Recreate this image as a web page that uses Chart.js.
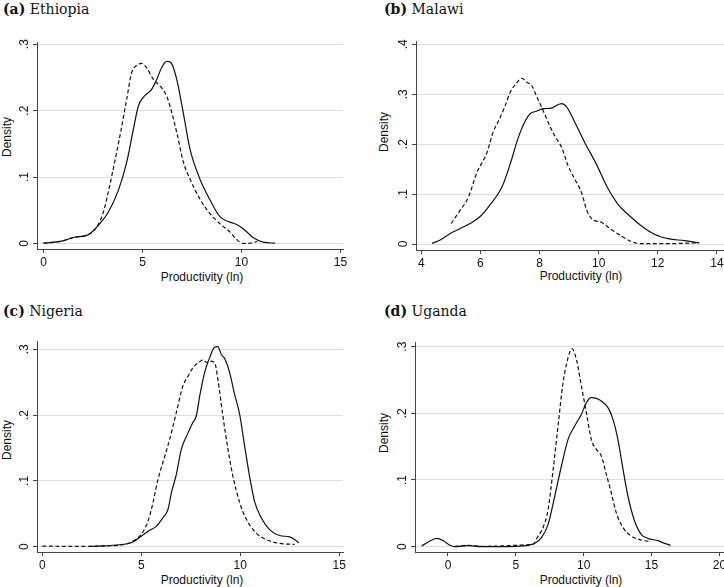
<!DOCTYPE html>
<html>
<head>
<meta charset="utf-8">
<script src="https://cdn.jsdelivr.net/npm/chart.js@4.4.1/dist/chart.umd.min.js"></script>
<style>
  body { margin: 0; background: #fff; }
  #wrap { position: relative; width: 724px; height: 587px; overflow: hidden; background: #fff; }
  canvas { position: absolute; }
  .ptitle { position: absolute; font-family: "DejaVu Serif", serif; font-size: 14px; line-height: 14px; color: #111; white-space: nowrap; }
  .ptitle b { font-weight: bold; }
  .xt, .yt { position: absolute; font-family: "Liberation Sans", Arial, sans-serif; font-size: 12px; line-height: 12px; color: #111; white-space: nowrap; }
  .xt { transform: translate(-50%, -50%); }
  .yt { transform: translate(-50%, -50%) rotate(-90deg); }
</style>
</head>
<body>
<div id="wrap">
  <div class="ptitle" style="left:3px;top:2px"><b>(a)</b> Ethiopia</div>
  <div class="ptitle" style="left:384px;top:2px"><b>(b)</b> Malawi</div>
  <div class="ptitle" style="left:3px;top:304px"><b>(c)</b> Nigeria</div>
  <div class="ptitle" style="left:384px;top:304px"><b>(d)</b> Uganda</div>

  <div class="xt" style="left:202px;top:277px">Productivity (ln)</div>
  <div class="xt" style="left:581px;top:276px">Productivity (ln)</div>
  <div class="xt" style="left:202px;top:580px">Productivity (ln)</div>
  <div class="xt" style="left:581px;top:580px">Productivity (ln)</div>

  <div class="yt" style="left:7px;top:137px">Density</div>
  <div class="yt" style="left:384px;top:132px">Density</div>
  <div class="yt" style="left:7px;top:440px">Density</div>
  <div class="yt" style="left:384px;top:433px">Density</div>

  <canvas id="cA"></canvas>
  <canvas id="cB"></canvas>
  <canvas id="cC"></canvas>
  <canvas id="cD"></canvas>
</div>

<script>
// ---- data ----
const ethiopiaSolidX = [0, 0.9, 1.5, 2.3, 2.85, 3.27, 3.78, 4.2, 4.54, 4.79, 5.04, 5.46, 5.72, 5.97, 6.22, 6.44, 6.73, 7.07, 7.4, 7.9, 8.42, 8.92, 9.34, 9.76, 10.19, 10.6, 11.1, 11.7];
const ethiopiaSolidY = [0.0005, 0.0035, 0.009, 0.014, 0.03, 0.047, 0.08, 0.122, 0.172, 0.207, 0.22, 0.232, 0.247, 0.265, 0.274, 0.272, 0.247, 0.195, 0.142, 0.097, 0.065, 0.04, 0.033, 0.0285, 0.0195, 0.0085, 0.002, 0.0005];
const ethiopiaDashX = [0, 0.9, 1.5, 2.3, 2.68, 3.02, 3.27, 3.52, 3.86, 4.2, 4.45, 4.7, 4.96, 5.21, 5.55, 5.89, 6.22, 6.48, 6.73, 7.07, 7.4, 7.9, 8.42, 8.92, 9.43, 9.76, 10.1, 10.44, 10.8];
const ethiopiaDashY = [0.0005, 0.0035, 0.009, 0.014, 0.0245, 0.047, 0.077, 0.112, 0.162, 0.217, 0.257, 0.268, 0.271, 0.2645, 0.247, 0.237, 0.222, 0.197, 0.167, 0.122, 0.097, 0.067, 0.0445, 0.0295, 0.017, 0.006, 0.0, 0.0005, 0.003];

const malawiSolidX = [4.36, 4.64, 4.98, 5.32, 5.65, 5.99, 6.33, 6.72, 7.0, 7.28, 7.51, 7.68, 7.9, 8.13, 8.41, 8.58, 8.75, 8.92, 9.2, 9.53, 9.93, 10.27, 10.66, 11.05, 11.45, 11.9, 12.35, 12.9, 13.4];
const malawiSolidY = [0.0013, 0.008, 0.021, 0.031, 0.041, 0.055, 0.079, 0.113, 0.159, 0.213, 0.246, 0.261, 0.266, 0.271, 0.272, 0.278, 0.281, 0.274, 0.243, 0.203, 0.159, 0.116, 0.079, 0.056, 0.036, 0.019, 0.0107, 0.0067, 0.002];
const malawiDashX = [5.01, 5.26, 5.6, 5.88, 6.22, 6.44, 6.61, 6.83, 7.0, 7.23, 7.4, 7.57, 7.74, 7.9, 8.13, 8.35, 8.52, 8.75, 8.97, 9.2, 9.42, 9.59, 9.76, 10.1, 10.43, 10.77, 11.1, 11.45, 12.35, 13.4];
const malawiDashY = [0.041, 0.063, 0.095, 0.143, 0.183, 0.226, 0.246, 0.276, 0.303, 0.323, 0.332, 0.324, 0.317, 0.296, 0.266, 0.236, 0.216, 0.193, 0.156, 0.129, 0.103, 0.069, 0.051, 0.043, 0.029, 0.016, 0.005, 0.0007, 0.0007, 0.0027];

const nigeriaSolidX = [2.4, 2.9, 3.9, 4.49, 5.0, 5.42, 5.76, 6.09, 6.35, 6.52, 6.77, 7.02, 7.36, 7.61, 7.78, 7.95, 8.2, 8.45, 8.7, 8.87, 9.04, 9.21, 9.46, 9.71, 9.97, 10.22, 10.47, 10.72, 11.06, 11.48, 11.99, 12.5, 12.74, 12.96];
const nigeriaSolidY = [0.0005, 0.001, 0.003, 0.006, 0.016, 0.025, 0.031, 0.044, 0.057, 0.082, 0.11, 0.148, 0.173, 0.189, 0.199, 0.229, 0.265, 0.287, 0.303, 0.304, 0.292, 0.286, 0.265, 0.232, 0.201, 0.153, 0.107, 0.069, 0.044, 0.026, 0.017, 0.015, 0.011, 0.006];
const nigeriaDashX = [0, 1.5, 2.5, 2.9, 3.9, 4.49, 5.0, 5.34, 5.59, 5.84, 6.09, 6.43, 6.77, 7.1, 7.36, 7.61, 7.95, 8.11, 8.28, 8.45, 8.7, 8.87, 9.12, 9.38, 9.63, 9.97, 10.3, 10.8, 11.3, 11.99, 12.74];
const nigeriaDashY = [0.001, 0.0005, 0.0005, 0.001, 0.0025, 0.007, 0.019, 0.039, 0.067, 0.102, 0.128, 0.163, 0.204, 0.244, 0.259, 0.272, 0.281, 0.284, 0.28, 0.282, 0.28, 0.254, 0.199, 0.148, 0.107, 0.067, 0.042, 0.021, 0.011, 0.005, 0.0035];

const ugandaSolidX = [-1.94, -1.45, -0.83, -0.34, 0.15, 0.51, 1.5, 2.48, 4.93, 5.9, 6.4, 6.89, 7.38, 7.87, 8.36, 8.85, 9.34, 9.83, 10.2, 10.56, 10.93, 11.3, 11.79, 12.16, 12.52, 12.9, 13.26, 13.75, 14.24, 14.73, 15.47, 15.96, 16.4];
const ugandaSolidY = [0.001, 0.007, 0.0125, 0.009, 0.002, 0, 0.0015, 0, 0.0005, 0.002, 0.005, 0.0135, 0.0335, 0.076, 0.121, 0.161, 0.181, 0.1985, 0.216, 0.2235, 0.2225, 0.2185, 0.2085, 0.191, 0.161, 0.116, 0.076, 0.0385, 0.0185, 0.0125, 0.009, 0.005, 0.002];
const ugandaDashX = [0.5, 1.5, 2.5, 5.0, 6.0, 6.27, 6.64, 7.0, 7.38, 7.75, 8.11, 8.48, 8.85, 9.14, 9.46, 9.83, 10.2, 10.56, 10.93, 11.3, 11.67, 12.03, 12.4, 12.9, 13.5, 14.24, 14.98];
const ugandaDashY = [0, 0.002, 0.0005, 0.002, 0.003, 0.0035, 0.016, 0.0285, 0.056, 0.116, 0.181, 0.246, 0.2835, 0.297, 0.281, 0.241, 0.201, 0.161, 0.146, 0.136, 0.1085, 0.081, 0.051, 0.0285, 0.016, 0.01, 0.0075];

// tick values and labels
const xTicks15 = [0, 5, 10, 15];
const xTicksMalawi = [4, 6, 8, 10, 12, 14];
const xTicksUganda = [0, 5, 10, 15, 20];
const yTicks3 = [0, 0.1, 0.2, 0.3];
const yTicks4 = [0, 0.1, 0.2, 0.3, 0.4];
const yTickLabels = ["0", ".1", ".2", ".3", ".4"];

// ---- layout ----
const Y_W = 36;   // room for y tick labels
const X_H = 24;   // room for x tick labels
const PAD_T = 6;
const AXIS = "#444";
const GRID = "#dedede";

const toPoints = (xs, ys) => xs.map((x, i) => ({ x: x, y: ys[i] }));

function makePanel(id, box, solid, dash, xTicks, yTicks, range) {
  const canvas = document.getElementById(id);
  const padR = box.padR;
  const w = Y_W + (box.r - box.l) + padR;
  const h = PAD_T + (box.b - box.t) + X_H;
  canvas.width = w;
  canvas.height = h;
  canvas.style.left = (box.l - Y_W) + "px";
  canvas.style.top = (box.t - PAD_T) + "px";

  new Chart(canvas.getContext("2d"), {
    type: "line",
    data: {
      datasets: [
        { data: solid, borderColor: "#111", borderWidth: 1.2, pointRadius: 0, cubicInterpolationMode: "monotone", fill: false },
        { data: dash, borderColor: "#111", borderWidth: 1.2, borderDash: [4, 2.5], pointRadius: 0, cubicInterpolationMode: "monotone", fill: false }
      ]
    },
    options: {
      responsive: false,
      devicePixelRatio: 1,
      animation: false,
      layout: { padding: { left: 0, top: PAD_T, right: padR, bottom: 0 } },
      plugins: { legend: { display: false }, tooltip: { enabled: false } },
      scales: {
        x: {
          type: "linear",
          min: range.xMin,
          max: range.xMax,
          afterBuildTicks: s => { s.ticks = xTicks.map(v => ({ value: v })); },
          afterFit: s => { s.height = X_H; s.paddingLeft = 0; s.paddingRight = 0; },
          grid: { drawOnChartArea: false, drawTicks: true, tickLength: 4, tickColor: AXIS },
          border: { color: AXIS, width: 1 },
          ticks: { autoSkip: false, maxRotation: 0, padding: 2, color: "#111",
                   font: { family: "Liberation Sans", size: 12 } }
        },
        y: {
          type: "linear",
          min: range.yMin,
          max: range.yMax,
          afterBuildTicks: s => { s.ticks = yTicks.map(v => ({ value: v })); },
          afterFit: s => { s.width = Y_W; s.paddingTop = 0; s.paddingBottom = 0; },
          grid: { color: GRID, lineWidth: 1, tickLength: 4, tickColor: AXIS },
          border: { color: AXIS, width: 1 },
          ticks: { autoSkip: false, minRotation: 90, maxRotation: 90, crossAlign: "center", padding: 3,
                   color: "#111", font: { family: "Liberation Sans", size: 12 },
                   callback: (v, i) => yTickLabels[i] }
        }
      }
    }
  });
}

makePanel("cA", { l: 37, r: 343, t: 42, b: 249, padR: 20 },
  toPoints(ethiopiaSolidX, ethiopiaSolidY), toPoints(ethiopiaDashX, ethiopiaDashY),
  xTicks15, yTicks3, { xMin: -0.33, xMax: 15.13, yMin: -0.0083, yMax: 0.3033 });

makePanel("cB", { l: 416, r: 724, t: 41, b: 250, padR: 0 },
  toPoints(malawiSolidX, malawiSolidY), toPoints(malawiDashX, malawiDashY),
  xTicksMalawi, yTicks4, { xMin: 3.82, xMax: 14.24, yMin: -0.012, yMax: 0.4066 });

makePanel("cC", { l: 37, r: 343, t: 341, b: 552, padR: 20 },
  toPoints(nigeriaSolidX, nigeriaSolidY), toPoints(nigeriaDashX, nigeriaDashY),
  xTicks15, yTicks3, { xMin: -0.27, xMax: 15.19, yMin: -0.008, yMax: 0.3126 });

makePanel("cD", { l: 415, r: 724, t: 342, b: 552, padR: 0 },
  toPoints(ugandaSolidX, ugandaSolidY), toPoints(ugandaDashX, ugandaDashY),
  xTicksUganda, yTicks3, { xMin: -2.43, xMax: 20.34, yMin: -0.008, yMax: 0.307 });
</script>
</body>
</html>
